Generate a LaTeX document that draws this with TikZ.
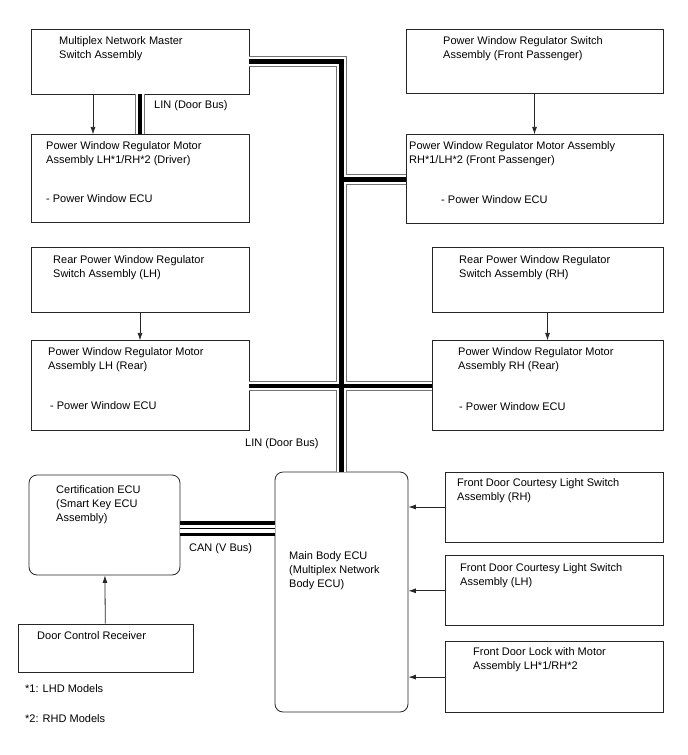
\documentclass[tikz,border=0pt]{standalone}
\usepackage{fontspec}
\setmainfont{Liberation Sans}
\usetikzlibrary{shapes,arrows.meta,positioning}

\tikzset{
  box/.style={draw=black!85, line width=0.8pt, rectangle, inner sep=0pt},
  ecubox/.style={box, rounded corners=8pt},
  txt/.style={anchor=north west, align=left, inner sep=0pt, font=\fontsize{11}{14}\selectfont},
  lbl/.style={anchor=west, inner sep=0pt, font=\fontsize{11}{14}\selectfont},
  arr/.style={-{Latex[length=7.5pt,width=5pt]}, line width=0.8pt, draw=black!85},
  linbus/.style={draw=black!55, line width=1pt, double=white, double distance=8.5pt,
    postaction={draw=black, line width=4.5pt}},
  canbus/.style={draw=black, line width=3.25pt, double=white, double distance=8pt,
    postaction={draw=black, line width=1pt}}
}

\begin{document}
\begin{tikzpicture}[x=1pt, y=-1pt]
    \useasboundingbox (0,0) rectangle (688,755);

    \node[box, minimum width=218pt, minimum height=65pt] (master) at (140,61.5) {};
    \node[box, minimum width=218pt, minimum height=88pt, below=40pt of master] (driver) {};
    \node[box, minimum width=257pt, minimum height=64pt] (fpswitch) at (534.5,61) {};
    \node[box, minimum width=257pt, minimum height=89pt, below=41pt of fpswitch] (fpmotor) {};
    \node[box, minimum width=218pt, minimum height=65pt] (rlswitch) at (140,279.5) {};
    \node[box, minimum width=218pt, minimum height=90pt, below=28pt of rlswitch] (rlmotor) {};
    \node[box, minimum width=231pt, minimum height=65pt] (rrswitch) at (547.5,279.5) {};
    \node[box, minimum width=231pt, minimum height=90pt, below=28pt of rrswitch] (rrmotor) {};
    \node[ecubox, minimum width=151pt, minimum height=100pt] (cert) at (104.5,525) {};
    \node[box, minimum width=175pt, minimum height=48pt] (receiver) at (105.5,648) {};
    \node[ecubox, minimum width=133pt, minimum height=240pt] (mainecu) at (341.5,592) {};
    \node[box, minimum width=218pt, minimum height=70pt] (fdrh) at (554,507) {};
    \node[box, minimum width=218pt, minimum height=70pt, below=13pt of fdrh] (fdlh) {};
    \node[box, minimum width=218pt, minimum height=71pt, below=15pt of fdlh] (lock) {};

    \node[txt] (master-txt) at (59,36) {Multiplex Network Master\\Switch Assembly};
    \node[txt] (driver-txt) at (46,141.5) {Power Window Regulator Motor\\Assembly LH*1/RH*2 (Driver)};
    \node[lbl] (driver-ecu) at (46,199) {- Power Window ECU};
    \node[txt] (fpswitch-txt) at (443,36) {Power Window Regulator Switch\\Assembly (Front Passenger)};
    \node[txt] (fpmotor-txt) at (409,141) {Power Window Regulator Motor Assembly\\RH*1/LH*2 (Front Passenger)};
    \node[lbl] (fpmotor-ecu) at (441,200) {- Power Window ECU};
    \node[txt] (rlswitch-txt) at (53,255) {Rear Power Window Regulator\\Switch Assembly (LH)};
    \node[txt] (rlmotor-txt) at (48,347.5) {Power Window Regulator Motor\\Assembly LH (Rear)};
    \node[lbl] (rlmotor-ecu) at (50,405.7) {- Power Window ECU};
    \node[txt] (rrswitch-txt) at (459,255) {Rear Power Window Regulator\\Switch Assembly (RH)};
    \node[txt] (rrmotor-txt) at (458,347.5) {Power Window Regulator Motor\\Assembly RH (Rear)};
    \node[lbl] (rrmotor-ecu) at (459,406.7) {- Power Window ECU};
    \node[txt] (cert-txt) at (56,485) {Certification ECU\\(Smart Key ECU\\Assembly)};
    \node[txt] (receiver-txt) at (37,631.5) {Door Control Receiver};
    \node[txt] (mainecu-txt) at (289,551.5) {Main Body ECU\\(Multiplex Network\\Body ECU)};
    \node[txt] (fdrh-txt) at (457,478) {Front Door Courtesy Light Switch\\Assembly (RH)};
    \node[txt] (fdlh-txt) at (460,563) {Front Door Courtesy Light Switch\\Assembly (LH)};
    \node[txt] (lock-txt) at (473,647.5) {Front Door Lock with Motor\\Assembly LH*1/RH*2};

    \node[lbl] (lin-top) at (154,106) {LIN (Door Bus)};
    \node[lbl] (lin-bot) at (245,444) {LIN (Door Bus)};
    \node[lbl] (can) at (189,548.3) {CAN (V Bus)};
    \node[lbl] (note1) at (25,688.3) {*1: LHD Models};
    \node[lbl] (note2) at (25,719) {*2: RHD Models};

    % buses
    \draw[linbus] (master.east) -| (mainecu.north)
        (fpmotor.west) -- (fpmotor.west -| mainecu.north)
        (rlmotor.east) -- (rrmotor.west);
    \draw[linbus] (master.south) -- (driver.north);
    \draw[canbus] ([yshift=-3.5pt]cert.east) -- ([yshift=-3.5pt]cert.east -| mainecu.west);

    \draw[arr] ([xshift=-47pt]master.south) -- ([xshift=-47pt]driver.north);
    \draw[arr] (fpswitch) -- (fpmotor);
    \draw[arr] (rlswitch) -- (rlmotor);
    \draw[arr] (rrswitch) -- (rrmotor);
    \draw[arr] (receiver) -- (cert);
    \draw[arr] (fdrh.west) -- (fdrh.west -| mainecu.east);
    \draw[arr] (fdlh.west) -- (fdlh.west -| mainecu.east);
    \draw[arr] (lock.west) -- (lock.west -| mainecu.east);
\end{tikzpicture}
\end{document}
